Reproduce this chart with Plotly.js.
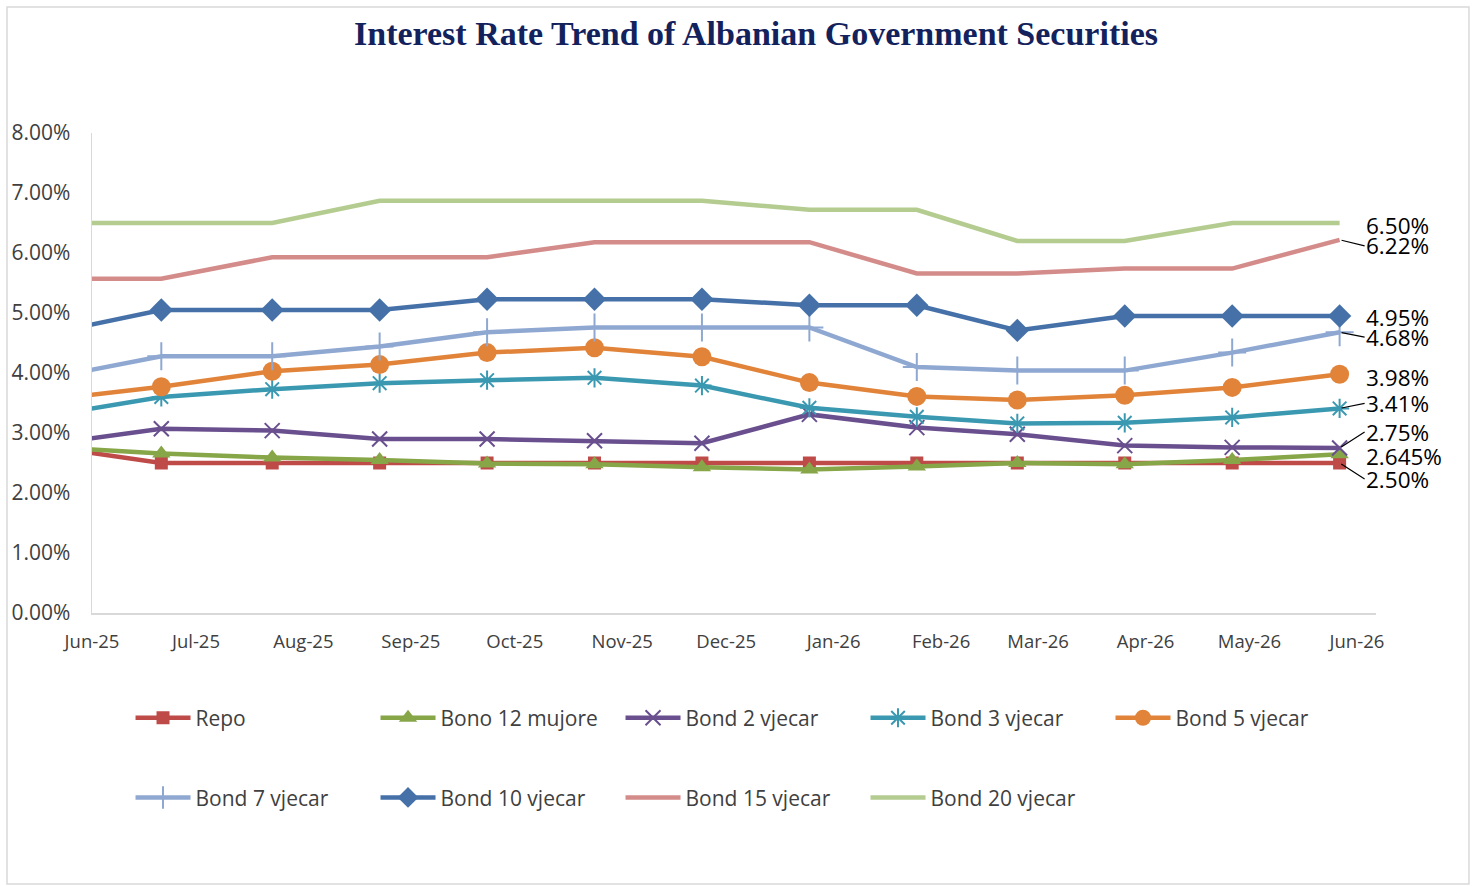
<!DOCTYPE html>
<html><head><meta charset="utf-8">
<script src="https://cdn.plot.ly/plotly-3.0.1.min.js"></script>
<style>html,body{margin:0;padding:0;background:#fff}#chart{width:1476px;height:886px}</style>
</head><body><div id="chart"></div>
<script>
const dates = ['2025-05-28','2025-06-21','2025-07-23','2025-08-23','2025-09-23','2025-10-24','2025-11-24','2025-12-25','2026-01-25','2026-02-23','2026-03-26','2026-04-26','2026-05-27'];
const repo   = [2.70,2.50,2.50,2.50,2.50,2.50,2.50,2.50,2.50,2.50,2.50,2.50,2.50];
const bono12 = [2.74,2.66,2.59,2.55,2.49,2.48,2.43,2.39,2.44,2.50,2.48,2.55,2.645];
const bond2  = [2.88,3.07,3.04,2.90,2.90,2.87,2.83,3.31,3.09,2.98,2.79,2.76,2.75];
const bond3  = [3.37,3.60,3.73,3.83,3.88,3.92,3.79,3.42,3.27,3.16,3.17,3.26,3.41];
const bond5  = [3.61,3.77,4.03,4.14,4.34,4.42,4.27,3.84,3.61,3.55,3.63,3.76,3.98];
const bond7  = [4.01,4.28,4.28,4.44,4.68,4.76,4.76,4.76,4.10,4.04,4.04,4.34,4.68];
const bond10 = [4.76,5.05,5.05,5.05,5.23,5.23,5.23,5.13,5.13,4.71,4.95,4.95,4.95];
const bond15 = [5.57,5.57,5.93,5.93,5.93,6.18,6.18,6.18,5.66,5.66,5.74,5.74,6.22];
const bond20 = [6.50,6.50,6.50,6.87,6.87,6.87,6.87,6.72,6.72,6.20,6.20,6.50,6.50];
const seriesNames = ['Repo','Bono 12 mujore','Bond 2 vjecar','Bond 3 vjecar','Bond 5 vjecar','Bond 7 vjecar','Bond 10 vjecar','Bond 15 vjecar','Bond 20 vjecar'];

const seriesData = [repo,bono12,bond2,bond3,bond5,bond7,bond10,bond15,bond20];
const colors = ['#BE4B48','#86A648','#6A4F8F','#3A99B1','#E1843A','#8FA8D1','#4571A8','#D38C8A','#B4CC90'];
const markers = [
  {symbol:'square',size:13},
  {symbol:'triangle-up',size:16},
  {symbol:'x-thin-open',size:15,lw:2},
  {symbol:'asterisk-open',size:16,lw:2},
  {symbol:'circle',size:19},
  {symbol:'cross-thin-open',size:20,lw:2},
  {symbol:'diamond',size:18},
  null,null
];

const traces = seriesData.map((ys,i)=>{
  const m = markers[i];
  const t = {
    type:'scatter', x:dates, y:ys, name:seriesNames[i],
    mode: m ? 'lines+markers' : 'lines',
    line:{color:colors[i], width:4.5},
    legend: i<5 ? 'legend' : 'legend2',
    cliponaxis:true,
    hoverinfo:'x+y+name'
  };
  if (m) {
    t.marker = {symbol:m.symbol, size:m.size, color:colors[i],
      line:{color:colors[i], width:m.lw||0}};
  }
  return t;
});

function fmt(v){
  const h = v*100;
  return (Math.abs(h-Math.round(h))<1e-6 ? v.toFixed(2) : v.toFixed(3)) + '%';
}
const labelCfg = [
  {ay:16, lead:true},   // Repo
  {ay:2,  lead:false},  // Bono 12
  {ay:-16,lead:true},   // Bond 2
  {ay:-5, lead:true},   // Bond 3
  {ay:3,  lead:false},  // Bond 5
  {ay:5,  lead:true},   // Bond 7
  {ay:1,  lead:false},  // Bond 10
  {ay:6,  lead:true},   // Bond 15
  {ay:2,  lead:false}   // Bond 20
];
const annotations = seriesData.map((ys,i)=>({
  x: dates[dates.length-1], y: ys[ys.length-1], xref:'x', yref:'y',
  text: fmt(ys[ys.length-1]), showarrow:true, arrowhead:0, arrowwidth:1.2,
  arrowcolor: labelCfg[i].lead ? '#000' : 'rgba(0,0,0,0)',
  ax: 25, ay: labelCfg[i].ay, xanchor:'left', yanchor:'middle',
  standoff: 2, borderpad:0,
  font:{family:'Open Sans, sans-serif', size:22.5, color:'#000'}
}));

const legendFont = {family:'Open Sans, sans-serif', size:21, color:'#404040'};
const layout = {
  width:1476, height:886,
  margin:{l:92, r:100, t:133, b:273},
  paper_bgcolor:'#fff', plot_bgcolor:'#fff',
  title:{text:'<b>Interest Rate Trend of Albanian Government Securities</b>',
    x:0.5122, xanchor:'center', xref:'container', y:0.963, yanchor:'middle', yref:'container',
    font:{family:'Liberation Serif, serif', size:34, color:'#13225C'}},
  xaxis:{type:'date', range:['2025-06-01','2026-06-06 12:00'], tick0:'2025-06-01', dtick:'M1',
    tickformat:'%b-%y', showgrid:false, zeroline:false, showline:true, linecolor:'#D9D9D9', linewidth:1.5,
    ticks:'', ticklabelstandoff:11,
    tickfont:{family:'Open Sans, sans-serif', size:18.5, color:'#404040'}},
  yaxis:{range:[0,8], dtick:1, tickformat:'.2f', ticksuffix:'%', showgrid:false, zeroline:false,
    showline:true, linecolor:'#D9D9D9', linewidth:1.5, ticks:'', ticklabelstandoff:16,
    tickfont:{family:'Open Sans, sans-serif', size:21, color:'#404040'}},
  showlegend:true,
  legend:{orientation:'h', x:0.030, xanchor:'left', y:-0.219, yanchor:'middle',
    entrywidth:175, entrywidthmode:'pixels', itemwidth:55, traceorder:'normal',
    font:legendFont, bgcolor:'rgba(0,0,0,0)'},
  legend2:{orientation:'h', x:0.030, xanchor:'left', y:-0.385, yanchor:'middle',
    entrywidth:175, entrywidthmode:'pixels', itemwidth:55, traceorder:'normal',
    font:legendFont, bgcolor:'rgba(0,0,0,0)'},
  annotations: annotations,
  shapes:[{type:'rect', xref:'paper', yref:'paper', x0:-0.0662, x1:1.0724, y0:-0.5646, y1:1.2625,
    line:{color:'#D9D9D9', width:1.5}, fillcolor:'rgba(0,0,0,0)', layer:'below'}]
};

Plotly.newPlot('chart', traces, layout, {displayModeBar:false, staticPlot:true});
</script></body></html>
